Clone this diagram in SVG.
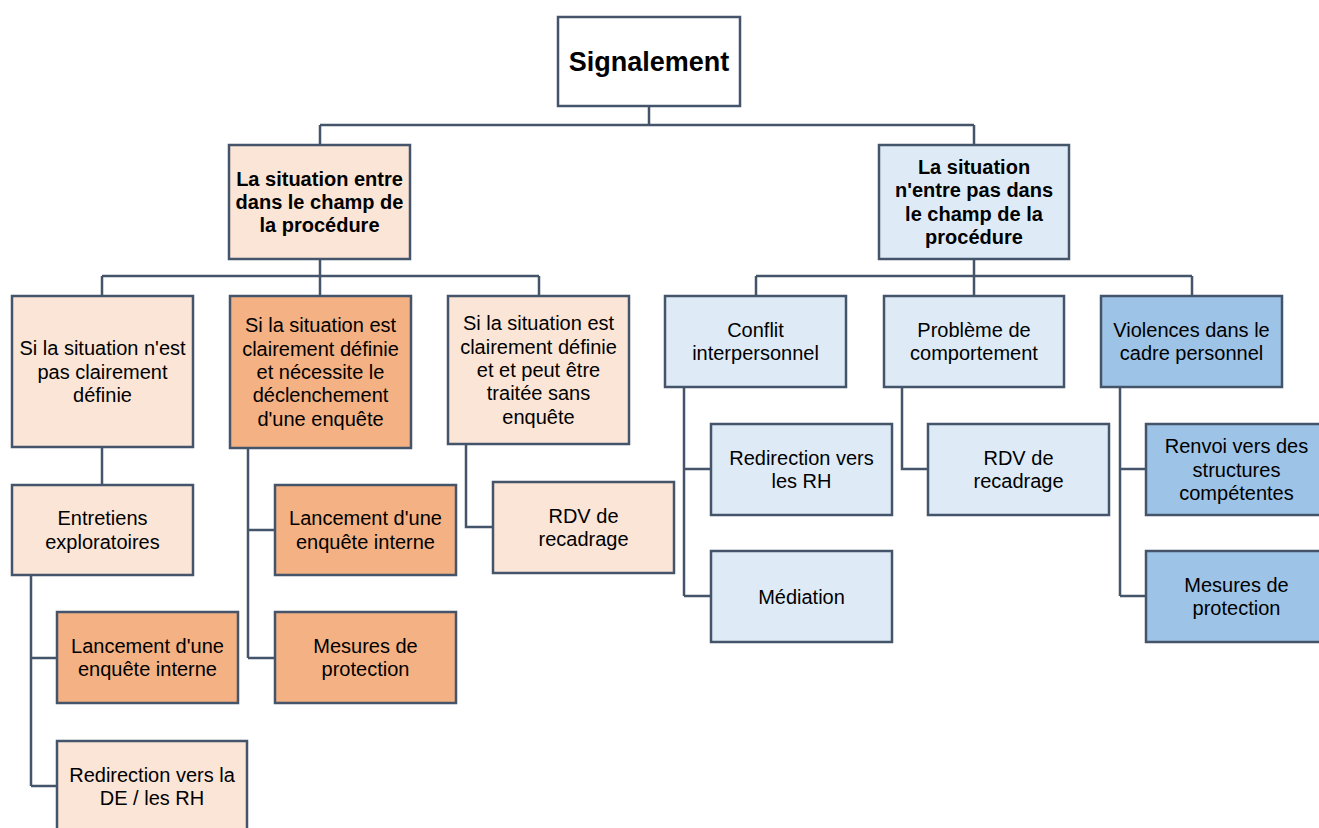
<svg xmlns="http://www.w3.org/2000/svg" width="1319" height="828" viewBox="0 0 1319 828">
<style>
rect{stroke:#44546A;stroke-width:2.5}
.w{fill:#FFFFFF}
.lp{fill:#FBE5D6}
.or{fill:#F4B183}
.lb{fill:#DEEBF7}
.mb{fill:#9DC3E6}
text{font-family:"Liberation Sans",Arial,sans-serif;font-size:20px;fill:#000;text-anchor:middle}
.b{font-weight:bold}
.t{font-size:27px;font-weight:bold}
#connectors path{fill:none;stroke:#44546A;stroke-width:2.5}
</style>
<rect width="1319" height="828" fill="#FFFFFF" style="stroke:none"/>
<g id="connectors">
<path d="M649,106V125M320,125H974M320,125V145M974,125V145"/>
<path d="M320,259V276M102,276H539M102,276V296M320,276V296M539,276V296"/>
<path d="M102,447V485"/>
<path d="M31,575V786M31,658H57M31,786H57"/>
<path d="M248,448V658M248,530H275M248,658H275"/>
<path d="M466,444V527H493"/>
<path d="M974,259V276M756,276H1192M756,276V296M974,276V296M1192,276V296"/>
<path d="M684,387V596M684,469H711M684,596H711"/>
<path d="M902,387V469H928"/>
<path d="M1120,387V596M1120,469H1146M1120,596H1146"/>
</g>
<g id="n-root"><rect class="w" x="558" y="17" width="182" height="89"/><text class="t" x="649" y="71">Signalement</text></g>
<g id="n-in"><rect class="lp" x="229" y="145" width="181" height="114"/><text class="b" x="319.5"><tspan x="319.5" y="185.7">La situation entre</tspan><tspan x="319.5" y="209">dans le champ de</tspan><tspan x="319.5" y="232.3">la procédure</tspan></text></g>
<g id="n-out"><rect class="lb" x="879" y="145" width="190" height="114"/><text class="b" x="974"><tspan x="974" y="174">La situation</tspan><tspan x="974" y="197.3">n'entre pas dans</tspan><tspan x="974" y="220.7">le champ de la</tspan><tspan x="974" y="244">procédure</tspan></text></g>
<g id="n-a"><rect class="lp" x="12" y="296" width="181" height="151"/><text><tspan x="102.5" y="355.2">Si la situation n'est</tspan><tspan x="102.5" y="378.5">pas clairement</tspan><tspan x="102.5" y="401.8">définie</tspan></text></g>
<g id="n-b"><rect class="or" x="230" y="296" width="181" height="152"/><text><tspan x="320.5" y="332.4">Si la situation est</tspan><tspan x="320.5" y="355.7">clairement définie</tspan><tspan x="320.5" y="379">et nécessite le</tspan><tspan x="320.5" y="402.3">déclenchement</tspan><tspan x="320.5" y="425.6">d'une enquête</tspan></text></g>
<g id="n-c"><rect class="lp" x="448" y="296" width="181" height="148"/><text><tspan x="538.5" y="330.4">Si la situation est</tspan><tspan x="538.5" y="353.7">clairement définie</tspan><tspan x="538.5" y="377">et et peut être</tspan><tspan x="538.5" y="400.3">traitée sans</tspan><tspan x="538.5" y="423.6">enquête</tspan></text></g>
<g id="n-entretiens"><rect class="lp" x="12" y="485" width="181" height="90"/><text><tspan x="102.5" y="525.4">Entretiens</tspan><tspan x="102.5" y="548.7">exploratoires</tspan></text></g>
<g id="n-lanc-b"><rect class="or" x="275" y="485" width="181" height="90"/><text><tspan x="365.5" y="525.4">Lancement d'une</tspan><tspan x="365.5" y="548.7">enquête interne</tspan></text></g>
<g id="n-rdv-c"><rect class="lp" x="493" y="482" width="181" height="91"/><text><tspan x="583.5" y="522.9">RDV de</tspan><tspan x="583.5" y="546.2">recadrage</tspan></text></g>
<g id="n-lanc-a"><rect class="or" x="57" y="612" width="181" height="91"/><text><tspan x="147.5" y="652.8">Lancement d'une</tspan><tspan x="147.5" y="676.2">enquête interne</tspan></text></g>
<g id="n-mes-b"><rect class="or" x="275" y="612" width="181" height="91"/><text><tspan x="365.5" y="652.8">Mesures de</tspan><tspan x="365.5" y="676.2">protection</tspan></text></g>
<g id="n-redir-de"><rect class="lp" x="57" y="741" width="190" height="91"/><text><tspan x="152" y="781.8">Redirection vers la</tspan><tspan x="152" y="805.1">DE / les RH</tspan></text></g>
<g id="n-conflit"><rect class="lb" x="665" y="296" width="181" height="91"/><text><tspan x="755.5" y="336.8">Conflit</tspan><tspan x="755.5" y="360.2">interpersonnel</tspan></text></g>
<g id="n-probleme"><rect class="lb" x="884" y="296" width="180" height="91"/><text><tspan x="974" y="336.8">Problème de</tspan><tspan x="974" y="360.2">comportement</tspan></text></g>
<g id="n-violences"><rect class="mb" x="1101" y="296" width="181" height="91"/><text><tspan x="1191.5" y="336.8">Violences dans le</tspan><tspan x="1191.5" y="360.2">cadre personnel</tspan></text></g>
<g id="n-redir-rh"><rect class="lb" x="711" y="424" width="181" height="91"/><text><tspan x="801.5" y="464.8">Redirection vers</tspan><tspan x="801.5" y="488.2">les RH</tspan></text></g>
<g id="n-rdv-p"><rect class="lb" x="928" y="424" width="181" height="91"/><text><tspan x="1018.5" y="464.8">RDV de</tspan><tspan x="1018.5" y="488.2">recadrage</tspan></text></g>
<g id="n-renvoi"><rect class="mb" x="1146" y="424" width="181" height="91"/><text><tspan x="1236.5" y="453.2">Renvoi vers des</tspan><tspan x="1236.5" y="476.5">structures</tspan><tspan x="1236.5" y="499.8">compétentes</tspan></text></g>
<g id="n-mediation"><rect class="lb" x="711" y="551" width="181" height="91"/><text x="801.5" y="603.5">Médiation</text></g>
<g id="n-mes-v"><rect class="mb" x="1146" y="551" width="181" height="91"/><text><tspan x="1236.5" y="591.8">Mesures de</tspan><tspan x="1236.5" y="615.2">protection</tspan></text></g>
</svg>
